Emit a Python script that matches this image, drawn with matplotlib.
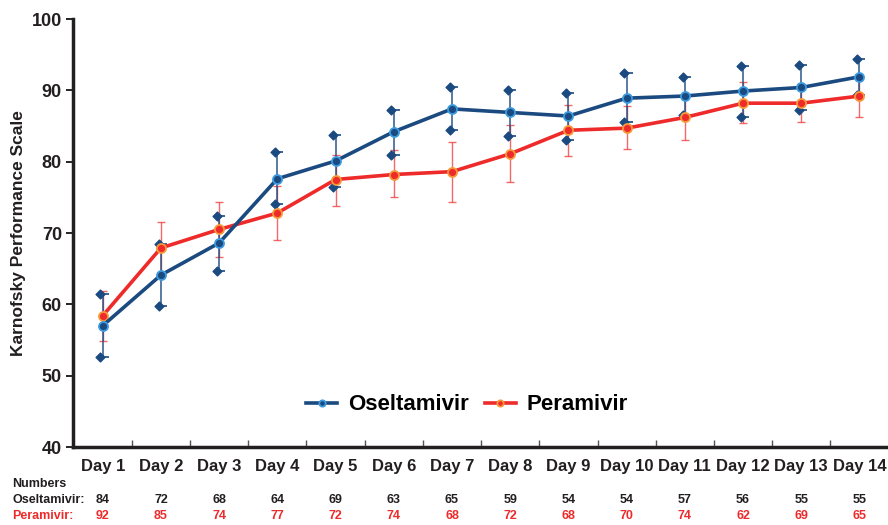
import numpy as np
import matplotlib.pyplot as plt

days = np.arange(1, 15)
day_labels = ["Day %d" % d for d in days]

# Oseltamivir: mean with lower / upper ends of the bars
osel_mean = [57.0, 64.1, 68.6, 77.6, 80.1, 84.2, 87.4, 86.9, 86.4, 88.9, 89.2, 89.9, 90.4, 91.9]
osel_low = [52.6, 59.7, 64.7, 74.0, 76.5, 81.0, 84.5, 83.6, 83.1, 85.5, 86.5, 86.2, 87.3, 89.4]
osel_high = [61.4, 68.5, 72.4, 81.3, 83.7, 87.3, 90.5, 90.1, 89.6, 92.4, 91.8, 93.4, 93.6, 94.4]

# Peramivir: mean with lower / upper ends of the bars
pera_mean = [58.4, 67.9, 70.5, 72.8, 77.5, 78.2, 78.6, 81.1, 84.4, 84.7, 86.2, 88.2, 88.2, 89.2]
pera_low = [54.9, 64.2, 66.6, 69.0, 73.8, 75.0, 74.4, 77.1, 80.8, 81.8, 83.1, 85.4, 85.5, 86.2]
pera_high = [61.9, 71.6, 74.3, 76.6, 81.0, 81.6, 82.8, 85.2, 87.9, 87.8, 89.3, 91.1, 90.9, 92.2]

# patient numbers per day
osel_n = [84, 72, 68, 64, 69, 63, 65, 59, 54, 54, 57, 56, 55, 55]
pera_n = [92, 85, 74, 77, 72, 74, 68, 72, 68, 70, 74, 62, 69, 65]

blue = "#1a4a80"
red = "#ee2a2a"
dark = "#231f20"

plt.rcParams['font.family'] = ['Liberation Sans', 'DejaVu Sans']

fig = plt.figure(figsize=(8.88, 5.25), dpi=100)
ax = fig.add_axes([73 / 888, 1 - 447 / 525, 815 / 888, 428 / 525])

om = np.array(osel_mean)
pm = np.array(pera_mean)

# error bars
ax.errorbar(days, pm, yerr=[pm - np.array(pera_low), np.array(pera_high) - pm],
            fmt="none", ecolor=red, elinewidth=1.0, capsize=3, capthick=1.0, alpha=0.7, zorder=2)
ax.errorbar(days, om, yerr=[om - np.array(osel_low), np.array(osel_high) - om],
            fmt="none", ecolor=blue, elinewidth=1.2, capsize=0, alpha=0.85, zorder=2)
# blue bar ends: short tick to the right and a diamond to the left
for ends in (osel_low, osel_high):
    ax.scatter(days + 0.05, ends, marker="_", s=22, color=blue, linewidths=1.2, zorder=3)
    ax.scatter(days - 0.04, ends, marker="D", s=20, color=blue, zorder=3)

ax.plot(days, om, color=blue, lw=2.6, marker="o", ms=6.5, mfc=blue,
        mec="#3d9be0", mew=1.3, label="Oseltamivir", zorder=5)
ax.plot(days, pm, color=red, lw=2.6, marker="o", ms=6.5, mfc=red,
        mec="#f79a3a", mew=1.3, label="Peramivir", zorder=4)

ax.set_xlim(0.49, 14.49)
ax.set_ylim(40, 100)
ax.set_yticks(range(40, 101, 10))
ax.set_xticks(days)
ax.set_xticklabels(day_labels, fontsize=12, fontweight="bold", color=dark)
ax.set_xticks(np.arange(1.5, 14.5, 1), minor=True)
ax.tick_params(axis="x", which="major", length=0, pad=9)
ax.tick_params(axis="x", which="minor", direction="in", length=5, width=1, color="#555555")
ax.tick_params(axis="y", direction="out", length=5, width=1.2, labelsize=13, pad=3)
for lab in ax.get_yticklabels():
    lab.set_fontweight("bold")
    lab.set_color(dark)

for side in ("top", "right"):
    ax.spines[side].set_visible(False)
for side in ("left", "bottom"):
    ax.spines[side].set_linewidth(2.5)
    ax.spines[side].set_color(dark)

ax.set_ylabel("Karnofsky Performance Scale", fontsize=12.5, fontweight="bold", color=dark, labelpad=4)

ax.legend(loc="center", bbox_to_anchor=((467 - 73) / 815, (447 - 405) / 428), ncol=2, frameon=False,
          prop={"size": 16, "weight": "bold"}, handlelength=1.4, handletextpad=0.5,
          columnspacing=0.7, markerscale=0.7)

# patient numbers table under the axis
trans = ax.get_xaxis_transform()
fig.text(12 / 888, 1 - 484 / 525, "Numbers", fontsize=9, fontweight="bold", color=dark, va="center")
fig.text(12 / 888, 1 - 500 / 525, "Oseltamivir:", fontsize=9, fontweight="bold", color=dark, va="center")
fig.text(12 / 888, 1 - 516 / 525, "Peramivir:", fontsize=9, fontweight="bold", color=red, va="center")
y_os = (447 - 500) / 428
y_pe = (447 - 516) / 428
for d, a, b in zip(days, osel_n, pera_n):
    ax.text(d, y_os, str(a), transform=trans, ha="center", va="center",
            fontsize=9, fontweight="bold", color=dark, clip_on=False)
    ax.text(d, y_pe, str(b), transform=trans, ha="center", va="center",
            fontsize=9, fontweight="bold", color=red, clip_on=False)

fig.savefig("out.png", dpi=100)
